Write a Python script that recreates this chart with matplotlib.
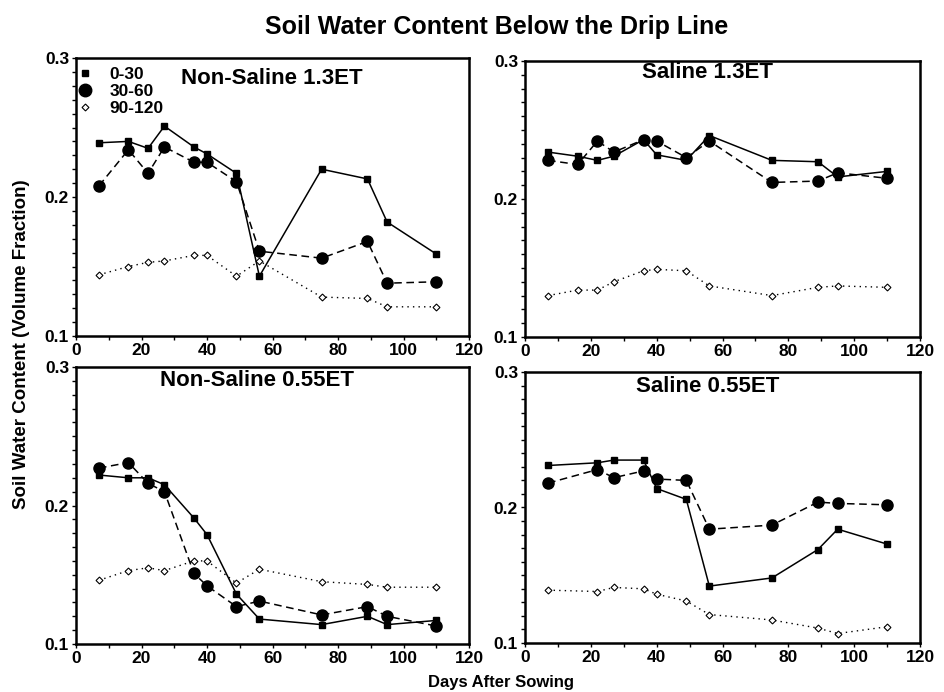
import matplotlib
matplotlib.use('Agg')
import matplotlib.pyplot as plt
from matplotlib.ticker import MultipleLocator
from matplotlib.lines import Line2D

plt.rcParams['font.family'] = ['Liberation Sans', 'DejaVu Sans']
plt.rcParams['font.weight'] = 'bold'

# days after sowing
days = [7, 16, 22, 27, 36, 40, 49, 56, 75, 89, 95, 110]
days_s055 = [7, 22, 27, 36, 40, 49, 56, 75, 89, 95, 110]

# Non-Saline 1.3ET
ns13_0_30 = [0.239, 0.240, 0.235, 0.251, 0.236, 0.231, 0.217, 0.143, 0.220, 0.213, 0.182, 0.159]
ns13_30_60 = [0.208, 0.234, 0.217, 0.236, 0.225, 0.225, 0.211, 0.161, 0.156, 0.168, 0.138, 0.139]
ns13_90_120 = [0.144, 0.150, 0.153, 0.154, 0.158, 0.158, 0.143, 0.154, 0.128, 0.127, 0.121, 0.121]

# Saline 1.3ET
s13_0_30 = [0.234, 0.231, 0.228, 0.231, 0.243, 0.232, 0.228, 0.246, 0.228, 0.227, 0.216, 0.220]
s13_30_60 = [0.228, 0.225, 0.242, 0.234, 0.243, 0.242, 0.230, 0.242, 0.212, 0.213, 0.219, 0.215]
s13_90_120 = [0.130, 0.134, 0.134, 0.140, 0.148, 0.149, 0.148, 0.137, 0.130, 0.136, 0.137, 0.136]

# Non-Saline 0.55ET
ns055_0_30 = [0.222, 0.220, 0.220, 0.215, 0.191, 0.179, 0.136, 0.118, 0.114, 0.120, 0.114, 0.117]
ns055_30_60 = [0.227, 0.231, 0.216, 0.210, 0.151, 0.142, 0.127, 0.131, 0.121, 0.127, 0.120, 0.113]
ns055_90_120 = [0.146, 0.153, 0.155, 0.153, 0.160, 0.160, 0.144, 0.154, 0.145, 0.143, 0.141, 0.141]

# Saline 0.55ET
s055_0_30 = [0.231, 0.233, 0.235, 0.235, 0.214, 0.206, 0.142, 0.148, 0.169, 0.184, 0.173]
s055_30_60 = [0.218, 0.228, 0.222, 0.227, 0.221, 0.220, 0.184, 0.187, 0.204, 0.203, 0.202]
s055_90_120 = [0.139, 0.138, 0.141, 0.140, 0.136, 0.131, 0.121, 0.117, 0.111, 0.107, 0.112]

depths = ['0-30', '30-60', '90-120']
panels = [
    ('Non-Saline 1.3ET', days, ns13_0_30, ns13_30_60, ns13_90_120),
    ('Saline 1.3ET', days, s13_0_30, s13_30_60, s13_90_120),
    ('Non-Saline 0.55ET', days, ns055_0_30, ns055_30_60, ns055_90_120),
    ('Saline 0.55ET', days_s055, s055_0_30, s055_30_60, s055_90_120),
]

W, H = 944, 692
# axes boxes in pixels: left, top, right, bottom
boxes = [(76, 58, 469, 336), (525, 61, 920, 337), (76, 367, 469, 644), (525, 372, 920, 643)]
title_pos = [(272, 78), (707, 73), (257, 381), (708, 387)]

fig = plt.figure(figsize=(W / 100, H / 100), dpi=100)

for (name, x, a, b, c), (l, t, r, bt), (tx, ty) in zip(panels, boxes, title_pos):
    ax = fig.add_axes([l / W, 1 - bt / H, (r - l) / W, (bt - t) / H])
    ax.plot(x, a, color='black', lw=1.1, ls='-', marker='s', ms=5, mfc='black', mec='black')
    ax.plot(x, b, color='black', lw=1.1, ls=(0, (5, 3)), marker='o', ms=8, mfc='black', mec='black')
    ax.plot(x, c, color='black', lw=1.0, ls=(0, (1, 3)), marker='D', ms=3.5, mfc='white', mec='black', mew=0.8)
    ax.set_xlim(0, 120)
    ax.set_ylim(0.1, 0.3)
    ax.xaxis.set_major_locator(MultipleLocator(20))
    ax.xaxis.set_minor_locator(MultipleLocator(10))
    ax.yaxis.set_major_locator(MultipleLocator(0.1))
    ax.yaxis.set_minor_locator(MultipleLocator(0.01))
    ax.tick_params(which='both', direction='out', width=1, length=3, labelsize=12.5, pad=2)
    for s in ax.spines.values():
        s.set_linewidth(1.8)
    ax.set_yticks([0.1, 0.2, 0.3])
    ax.set_yticklabels(['0.1', '0.2', '0.3'])
    for lab in ax.get_xticklabels() + ax.get_yticklabels():
        lab.set_fontweight('bold')
    fig.text(tx / W, 1 - ty / H, name, ha='center', va='center', fontsize=16, fontweight='bold')

    if name == 'Non-Saline 1.3ET':
        handles = [
            Line2D([], [], ls='none', marker='s', ms=5, mfc='black', mec='black'),
            Line2D([], [], ls='none', marker='o', ms=9, mfc='black', mec='black'),
            Line2D([], [], ls='none', marker='D', ms=3.5, mfc='white', mec='black', mew=0.8),
        ]
        ax.legend(handles, depths, loc='upper left', bbox_to_anchor=(-0.03, 1.005), frameon=False,
                  handlelength=1.2, handletextpad=0.8, labelspacing=0.1, borderaxespad=0.2,
                  prop={'size': 12.5, 'weight': 'bold'})

fig.text(497 / W, 1 - 27 / H, 'Soil Water Content Below the Drip Line', ha='center', va='center',
         fontsize=18, fontweight='bold')
fig.text(501 / W, 1 - 682 / H, 'Days After Sowing', ha='center', va='center', fontsize=12, fontweight='bold')
fig.text(22 / W, 1 - 344 / H, 'Soil Water Content (Volume Fraction)', ha='center', va='center',
         rotation=90, fontsize=13.5, fontweight='bold')

fig.savefig('out.png', dpi=100)
